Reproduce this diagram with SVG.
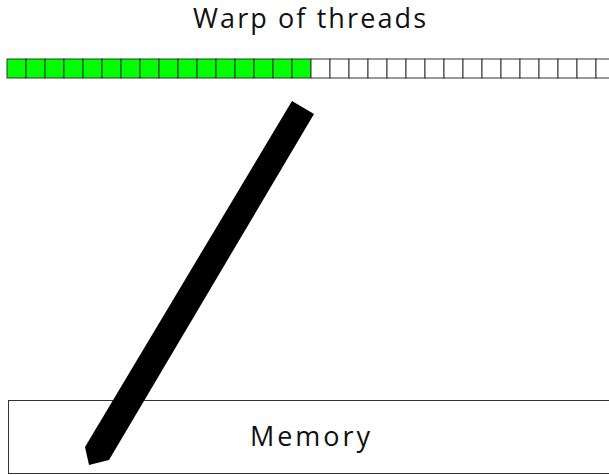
<svg xmlns="http://www.w3.org/2000/svg" width="609" height="475" viewBox="0 0 609 475">
  <style>
    .title { font-family: "Open Sans", "Liberation Sans", sans-serif; font-size: 27px; fill: #111; text-anchor: middle; }
    .cell { stroke: #333; stroke-width: 1; }
    .on { fill: #00ff00; }
    .off { fill: #ffffff; }
    .box { fill: #ffffff; stroke: #333; stroke-width: 1; }
  </style>
  <rect width="609" height="475" fill="#ffffff"/>
  <g id="warp">
    <text class="title" x="309.5" y="28" textLength="233" lengthAdjust="spacing">Warp of threads</text>
    <g id="threads">
      <rect class="cell on" x="7" y="59" width="19" height="19"/>
      <rect class="cell on" x="26" y="59" width="19" height="19"/>
      <rect class="cell on" x="45" y="59" width="19" height="19"/>
      <rect class="cell on" x="64" y="59" width="19" height="19"/>
      <rect class="cell on" x="83" y="59" width="19" height="19"/>
      <rect class="cell on" x="102" y="59" width="19" height="19"/>
      <rect class="cell on" x="121" y="59" width="19" height="19"/>
      <rect class="cell on" x="140" y="59" width="19" height="19"/>
      <rect class="cell on" x="159" y="59" width="19" height="19"/>
      <rect class="cell on" x="178" y="59" width="19" height="19"/>
      <rect class="cell on" x="197" y="59" width="19" height="19"/>
      <rect class="cell on" x="216" y="59" width="19" height="19"/>
      <rect class="cell on" x="235" y="59" width="19" height="19"/>
      <rect class="cell on" x="254" y="59" width="19" height="19"/>
      <rect class="cell on" x="273" y="59" width="19" height="19"/>
      <rect class="cell on" x="292" y="59" width="19" height="19"/>
      <rect class="cell off" x="311" y="59" width="19" height="19"/>
      <rect class="cell off" x="330" y="59" width="19" height="19"/>
      <rect class="cell off" x="349" y="59" width="19" height="19"/>
      <rect class="cell off" x="368" y="59" width="19" height="19"/>
      <rect class="cell off" x="387" y="59" width="19" height="19"/>
      <rect class="cell off" x="406" y="59" width="19" height="19"/>
      <rect class="cell off" x="425" y="59" width="19" height="19"/>
      <rect class="cell off" x="444" y="59" width="19" height="19"/>
      <rect class="cell off" x="463" y="59" width="19" height="19"/>
      <rect class="cell off" x="482" y="59" width="19" height="19"/>
      <rect class="cell off" x="501" y="59" width="19" height="19"/>
      <rect class="cell off" x="520" y="59" width="19" height="19"/>
      <rect class="cell off" x="539" y="59" width="19" height="19"/>
      <rect class="cell off" x="558" y="59" width="19" height="19"/>
      <rect class="cell off" x="577" y="59" width="19" height="19"/>
      <rect class="cell off" x="596" y="59" width="19" height="19"/>
    </g>
  </g>
  <g id="memory">
    <rect class="box" x="8.5" y="400.5" width="620" height="73"/>
    <text class="title" x="310" y="446" textLength="120" lengthAdjust="spacing">Memory</text>
  </g>
  <g id="connectors">
    <polygon points="292,101 314,114 109,460 89,465 85,447" fill="#000000"/>
  </g>
</svg>
